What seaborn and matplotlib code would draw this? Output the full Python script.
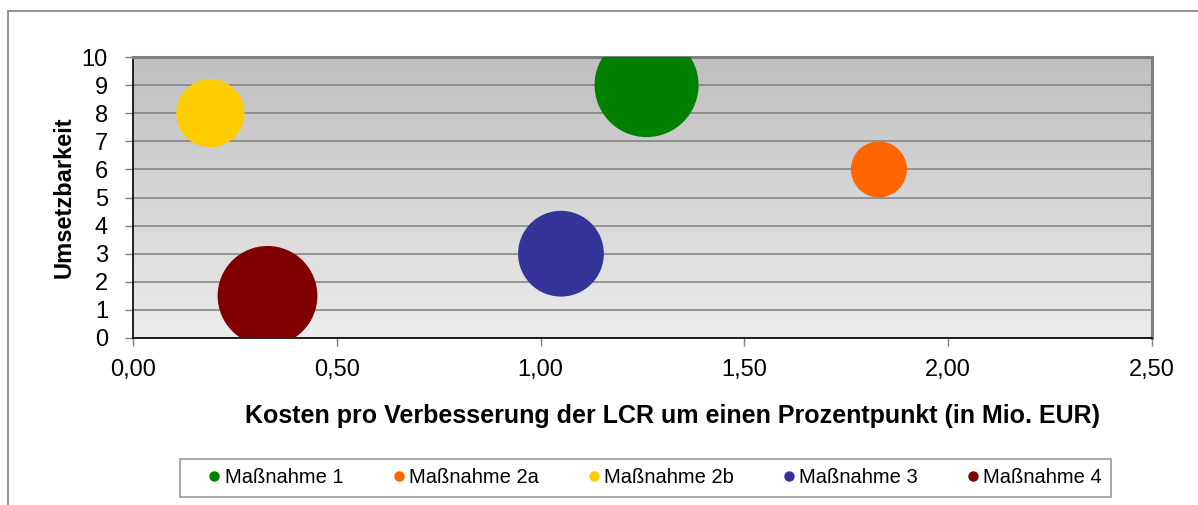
import matplotlib
matplotlib.use("Agg")
import matplotlib.pyplot as plt
import matplotlib.ticker as mticker
from matplotlib.lines import Line2D
import seaborn as sns
import numpy as np
import pandas as pd

# Werte
massnahmen = ["Maßnahme 1", "Maßnahme 2a", "Maßnahme 2b", "Maßnahme 3", "Maßnahme 4"]
kosten = [1.26, 1.83, 0.19, 1.05, 0.33]
umsetzbarkeit = [9, 6, 8, 3, 1.5]
blasen = [100, 29, 43, 68, 92]
farben = ["#008000", "#ff6600", "#ffcc00", "#333399", "#800000"]

df = pd.DataFrame({"Maßnahme": massnahmen, "Kosten": kosten,
                   "Umsetzbarkeit": umsetzbarkeit, "Blase": blasen})

sns.set_style("white")
plt.rcParams["font.family"] = ["Liberation Sans", "DejaVu Sans"]
plt.rcParams["text.color"] = "black"
plt.rcParams["axes.labelcolor"] = "black"
plt.rcParams["xtick.color"] = "black"
plt.rcParams["ytick.color"] = "black"

fig = plt.figure(figsize=(11.98, 5.05), dpi=100)
ax = fig.add_axes([0.111, 0.3307, 0.8506, 0.5564])

# Hintergrund mit Verlauf (oben dunkler, unten heller)
verlauf = np.linspace(0, 1, 256).reshape(-1, 1)
ax.imshow(verlauf, cmap=matplotlib.colors.LinearSegmentedColormap.from_list("g", ["#bfbfbf", "#ececec"]),
          extent=[0, 1, 0, 1], transform=ax.transAxes, aspect="auto", zorder=0)

# Blasengröße: Fläche proportional zum Wert
max_flaeche = (104 * 0.72) ** 2
sns.scatterplot(data=df, x="Kosten", y="Umsetzbarkeit", hue="Maßnahme", palette=farben,
                size="Blase", sizes=(0, max_flaeche), size_norm=(0, 100),
                linewidth=0, alpha=1, legend=False, ax=ax, zorder=3)

ax.set_xlim(0, 2.5)
ax.set_ylim(0, 10)
ax.xaxis.set_major_locator(mticker.MultipleLocator(0.5))
ax.yaxis.set_major_locator(mticker.MultipleLocator(1))
ax.xaxis.set_major_formatter(mticker.FuncFormatter(lambda v, p: f"{v:.2f}".replace(".", ",")))
ax.grid(axis="y", color="#7f7f7f", linewidth=1.1, zorder=1)
ax.set_axisbelow(True)

for s in ["left", "bottom"]:
    ax.spines[s].set_color("black")
    ax.spines[s].set_linewidth(1.2)
for s in ["top", "right"]:
    ax.spines[s].set_color("#808080")
    ax.spines[s].set_linewidth(2.2)

ax.tick_params(axis="y", left=True, length=6, width=1, color="#7f7f7f", pad=12, labelsize=17)
ax.tick_params(axis="x", bottom=True, length=6, width=1, color="#7f7f7f", pad=9, labelsize=17)

ax.set_xlabel("Kosten pro Verbesserung der LCR um einen Prozentpunkt (in Mio. EUR)",
              fontsize=18, fontweight="bold", labelpad=15)
ax.xaxis.set_label_coords(0.529, -0.235)
ax.set_ylabel("Umsetzbarkeit", fontsize=17, fontweight="bold", labelpad=4.5)

# Legende unten im Kasten
handles = [Line2D([], [], marker="o", linestyle="", markersize=7.5, markerfacecolor=c,
                  markeredgewidth=0) for c in farben]
leg = fig.legend(handles, massnahmen, loc="center", bbox_to_anchor=(0.539, 0.0535),
                 ncol=5, fontsize=14.5, frameon=True, fancybox=False, handletextpad=-0.75,
                 columnspacing=1.5, borderpad=0.45, handlelength=2.5, borderaxespad=0)
leg.get_frame().set_edgecolor("#808080")
leg.get_frame().set_linewidth(1.2)

# äußerer Rahmen
fig.add_artist(Line2D([8 / 1198, 8 / 1198], [0, 1 - 11 / 505], transform=fig.transFigure,
                      color="#808080", linewidth=1.2))
fig.add_artist(Line2D([8 / 1198, 1], [1 - 11 / 505, 1 - 11 / 505], transform=fig.transFigure,
                      color="#808080", linewidth=1.2))

fig.savefig("out.png", dpi=100)
